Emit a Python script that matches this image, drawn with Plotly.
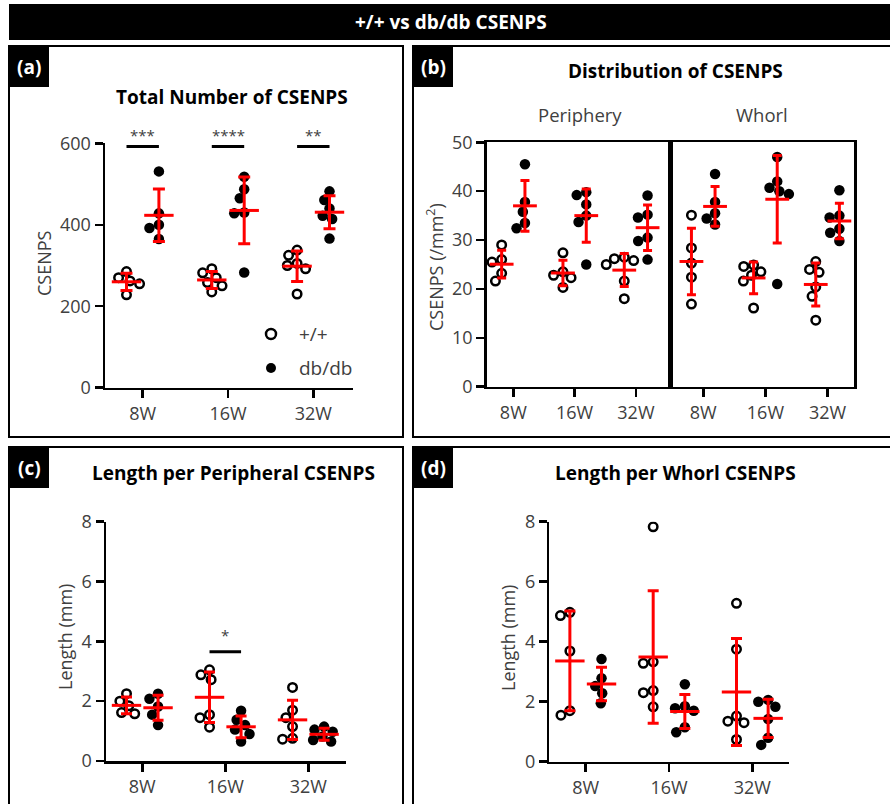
import numpy as np
import plotly.graph_objects as go

W, H = 890, 804
FONT = "Open Sans"
GRAY = "#404040"
RED = "#ff0000"

# ---------------- data ----------------
timepoints = ["8W", "16W", "32W"]
genotypes = ["+/+", "db/db"]

# (a) Total number of CSENPS
total_wt = [[285, 270, 262, 255, 228],
            [292, 282, 270, 258, 250, 235],
            [338, 325, 305, 300, 292, 230]]
total_db = [[531, 428, 400, 392, 365],
            [518, 487, 465, 430, 428, 283],
            [482, 461, 440, 422, 414, 366]]
sig_a = ["***", "****", "**"]

# (b) Distribution of CSENPS (/mm2)
periph_wt = [[29.0, 26.0, 25.5, 23.2, 21.6],
             [27.4, 23.5, 22.8, 22.3, 20.3],
             [26.5, 26.2, 25.8, 25.0, 21.6, 18.0]]
periph_db = [[45.5, 37.8, 35.8, 33.5, 32.4],
             [39.8, 39.2, 37.3, 35.0, 33.7, 25.0],
             [39.1, 35.2, 34.6, 30.5, 29.8, 26.0]]
whorl_wt = [[35.1, 28.4, 25.3, 22.4, 16.9],
            [24.9, 24.6, 23.5, 22.8, 21.6, 16.1],
            [25.6, 24.0, 23.4, 20.4, 18.5, 13.6]]
whorl_db = [[43.5, 37.8, 35.5, 34.4, 33.2],
            [47.0, 42.0, 40.7, 40.0, 39.4, 21.0],
            [40.2, 35.0, 34.6, 32.3, 31.5, 29.8]]

# (c) Length per peripheral CSENPS (mm)
lenp_wt = [[2.25, 2.00, 1.85, 1.62, 1.58],
           [3.05, 2.88, 2.72, 1.55, 1.45, 1.13],
           [2.46, 1.70, 1.45, 1.15, 0.76, 0.73]]
lenp_db = [[2.25, 2.08, 1.82, 1.55, 1.20],
           [1.68, 1.38, 1.20, 1.05, 0.90, 0.65],
           [1.15, 1.05, 0.98, 0.82, 0.70, 0.65]]
sig_c = ["", "*", ""]

# (d) Length per whorl CSENPS (mm)
lenw_wt = [[4.98, 4.87, 3.69, 1.70, 1.55],
           [7.83, 3.33, 3.28, 2.37, 2.30, 1.83],
           [5.28, 3.75, 1.52, 1.35, 1.30, 0.74]]
lenw_db = [[3.42, 2.78, 2.52, 2.28, 1.95],
           [2.58, 1.85, 1.78, 1.70, 1.15, 0.98],
           [2.06, 2.00, 1.83, 1.42, 0.80, 0.56]]

# ---------------- geometry helpers ----------------
def px(x):
    return x / W


def py(y):
    return 1 - y / H


# panel axes: id -> pixel box, x range, y range
AX = {
    "": dict(x=(105, 352.7), y=(143.3, 387.7), xr=[-0.442, 2.462], yr=[0, 600]),
    "2": dict(x=(486.7, 670), y=(142.3, 386.7), xr=[-0.434, 2.556], yr=[0, 50]),
    "3": dict(x=(670, 854.3), y=(142.3, 386.7), xr=[-0.535, 2.43], yr=[0, 50]),
    "4": dict(x=(106, 346), y=(521.7, 761), xr=[-0.437, 2.454], yr=[0, 8]),
    "5": dict(x=(549.3, 789.3), y=(521.7, 761.7), xr=[-0.437, 2.444], yr=[0, 8]),
}


def ppu(axid):
    a = AX[axid]
    ppx = (a["x"][1] - a["x"][0]) / (a["xr"][1] - a["xr"][0])
    ppy = (a["y"][1] - a["y"][0]) / (a["yr"][1] - a["yr"][0])
    return ppx, ppy


def swarm(values, ppx, ppy, d=10.0):
    placed = []
    offs = [0.0] * len(values)
    order = sorted(range(len(values)), key=lambda i: -values[i])
    for i in order:
        y = values[i] * ppy
        cands = [0.0]
        for xo, yo in placed:
            dy = abs(y - yo)
            if dy < d:
                dx = (d * d - dy * dy) ** 0.5
                cands += [xo + dx, xo - dx]
        cands.sort(key=lambda c: (round(abs(c), 6), c))
        chosen = 0.0
        for c in cands:
            if all((c - xo) ** 2 + (y - yo) ** 2 >= d * d - 1e-6 for xo, yo in placed):
                chosen = c
                break
        placed.append((chosen, y))
        offs[i] = chosen / ppx
    return offs


fig = go.Figure()
SHIFT = 0.19


def add_group(axid, groups, side, filled, meanw, capw):
    ppx, ppy = ppu(axid)
    xs, ys = [], []
    for t, vals in enumerate(groups):
        offs = swarm(vals, ppx, ppy)
        for v, o in zip(vals, offs):
            xs.append(t + side * SHIFT + o)
            ys.append(v)
    if filled:
        marker = dict(symbol="circle", size=10.5, color="black", line=dict(width=0))
    else:
        marker = dict(symbol="circle", size=8.5, color="white",
                      line=dict(color="black", width=2.5))
    xa = "x" + axid
    ya = "y" + axid
    fig.add_trace(go.Scatter(x=xs, y=ys, mode="markers", marker=marker,
                             xaxis=xa, yaxis=ya, showlegend=False, hoverinfo="skip"))
    means = [float(np.mean(v)) for v in groups]
    sds = [float(np.std(v, ddof=1)) for v in groups]
    fig.add_trace(go.Scatter(
        x=[t + side * SHIFT for t in range(len(groups))], y=means, mode="markers",
        marker=dict(symbol="line-ew", size=meanw, color=RED, line=dict(color=RED, width=3)),
        error_y=dict(type="data", array=sds, visible=True, color=RED, thickness=3, width=capw),
        xaxis=xa, yaxis=ya, showlegend=False, hoverinfo="skip", cliponaxis=False))


add_group("", total_wt, -1, False, 21, 6)
add_group("", total_db, 1, True, 21, 6)
add_group("2", periph_wt, -1, False, 17, 4.5)
add_group("2", periph_db, 1, True, 17, 4.5)
add_group("3", whorl_wt, -1, False, 17, 4.5)
add_group("3", whorl_db, 1, True, 17, 4.5)
add_group("4", lenp_wt, -1, False, 21, 5.5)
add_group("4", lenp_db, 1, True, 21, 5.5)
add_group("5", lenw_wt, -1, False, 21, 5.5)
add_group("5", lenw_db, 1, True, 21, 5.5)

# ---------------- axes ----------------
tickfont = dict(family=FONT, size=18, color=GRAY)
base = dict(showline=True, linecolor="black", linewidth=2.5, ticks="outside", ticklen=8,
            tickwidth=2.5, tickcolor="black", showgrid=False, zeroline=False,
            tickfont=tickfont, fixedrange=True, automargin=False)

layout = {}
ytick = {"": [0, 200, 400, 600], "2": [0, 10, 20, 30, 40, 50], "3": [0, 10, 20, 30, 40, 50],
         "4": [0, 2, 4, 6, 8], "5": [0, 2, 4, 6, 8]}
for axid, a in AX.items():
    xa = dict(base, domain=[px(a["x"][0]), px(a["x"][1])], range=a["xr"],
              tickmode="array", tickvals=[0, 1, 2], ticktext=timepoints,
              anchor="y" + axid)
    ya = dict(base, domain=[py(a["y"][1]), py(a["y"][0])], range=a["yr"],
              tickmode="array", tickvals=ytick[axid], anchor="x" + axid)
    if axid in ("2", "3"):
        xa["mirror"] = True
        ya["mirror"] = True
    if axid == "3":
        ya["showticklabels"] = False
        ya["ticks"] = ""
    layout["xaxis" + axid] = xa
    layout["yaxis" + axid] = ya

shapes = []
annotations = []

# banner
shapes.append(dict(type="rect", xref="paper", yref="paper", x0=px(9), x1=px(900),
                   y0=py(40), y1=py(4), fillcolor="black", line=dict(width=0), layer="below"))
annotations.append(dict(xref="paper", yref="paper", x=px(451), y=py(22), text="<b>+/+ vs db/db CSENPS</b>",
                        showarrow=False, font=dict(family=FONT, size=19, color="white"),
                        xanchor="center", yanchor="middle"))

# panel frames and tags
frames = [(9, 46, 403, 437, "(a)"), (413, 46, 900, 437, "(b)"),
          (9, 447, 403, 820, "(c)"), (413, 447, 900, 820, "(d)")]
for x0, y0, x1, y1, tag in frames:
    shapes.append(dict(type="rect", xref="paper", yref="paper", x0=px(x0), x1=px(x1),
                       y0=py(y1), y1=py(y0), line=dict(color="black", width=2), layer="below"))
    shapes.append(dict(type="rect", xref="paper", yref="paper", x0=px(x0), x1=px(x0 + 40),
                       y0=py(y0 + 41), y1=py(y0), fillcolor="black", line=dict(width=0), layer="below"))
    annotations.append(dict(xref="paper", yref="paper", x=px(x0 + 20), y=py(y0 + 21),
                            text="<b>" + tag + "</b>", showarrow=False,
                            font=dict(family=FONT, size=19, color="white"),
                            xanchor="center", yanchor="middle"))

# panel titles
titles = [(232, 97, "Total Number of CSENPS"), (675, 71, "Distribution of CSENPS"),
          (233, 473, "Length per Peripheral CSENPS"), (675, 473, "Length per Whorl CSENPS")]
for x, y, t in titles:
    annotations.append(dict(xref="paper", yref="paper", x=px(x), y=py(y), text="<b>" + t + "</b>",
                            showarrow=False, font=dict(family=FONT, size=19, color="black"),
                            xanchor="center", yanchor="middle"))

# region labels
for x, t in [(580, "Periphery"), (762, "Whorl")]:
    annotations.append(dict(xref="paper", yref="paper", x=px(x), y=py(115), text=t,
                            showarrow=False, font=dict(family=FONT, size=18.5, color=GRAY),
                            xanchor="center", yanchor="middle"))

# y titles
for x, y, t in [(44, 263, "CSENPS"), (435, 267, "CSENPS (/mm<sup>2</sup>)"),
                (65, 637, "Length (mm)"), (508, 638, "Length (mm)")]:
    annotations.append(dict(xref="paper", yref="paper", x=px(x), y=py(y), text=t, textangle=-90,
                            showarrow=False, font=dict(family=FONT, size=18, color=GRAY),
                            xanchor="center", yanchor="middle"))

# significance bars
for t, s in enumerate(sig_a):
    if s:
        shapes.append(dict(type="line", xref="x", yref="y", x0=t - SHIFT, x1=t + SHIFT,
                           y0=592, y1=592, line=dict(color="black", width=3)))
        annotations.append(dict(xref="x", yref="y domain", x=t, y=0.985, text=s, showarrow=False,
                                font=dict(family=FONT, size=15, color=GRAY),
                                xanchor="center", yanchor="bottom"))
for t, s in enumerate(sig_c):
    if s:
        shapes.append(dict(type="line", xref="x4", yref="y4", x0=t - SHIFT, x1=t + SHIFT,
                           y0=3.65, y1=3.65, line=dict(color="black", width=3)))
        annotations.append(dict(xref="x4", yref="y4", x=t, y=4.2, text=s, showarrow=False,
                                font=dict(family=FONT, size=15, color=GRAY),
                                xanchor="center", yanchor="middle"))

# legend (panel a)
for yy, filled, label in [(334, False, genotypes[0]), (368, True, genotypes[1])]:
    r = 5
    shapes.append(dict(type="circle", xref="paper", yref="paper",
                       x0=px(271 - r), x1=px(271 + r), y0=py(yy + r), y1=py(yy - r),
                       fillcolor="black" if filled else "white",
                       line=dict(color="black", width=0 if filled else 2.5)))
    annotations.append(dict(xref="paper", yref="paper", x=px(297), y=py(yy), text=label,
                            showarrow=False, font=dict(family=FONT, size=19, color=GRAY),
                            xanchor="left", yanchor="middle"))

fig.update_layout(width=W, height=H,
                  margin=dict(l=0, r=0, t=0, b=0, pad=0, autoexpand=False),
                  paper_bgcolor="white", plot_bgcolor="rgba(0,0,0,0)",
                  showlegend=False, shapes=shapes, annotations=annotations, **layout)

fig.write_html("out.html",
               config={"displayModeBar": False, "staticPlot": True},
               post_script="var gd=document.getElementById('{plot_id}');"
                           "gd.style.position='fixed';gd.style.left='0px';gd.style.top='0px';"
                           "document.body.style.margin='0px';"
                           "document.documentElement.style.overflow='hidden';"
                           "document.body.style.overflow='hidden';")
